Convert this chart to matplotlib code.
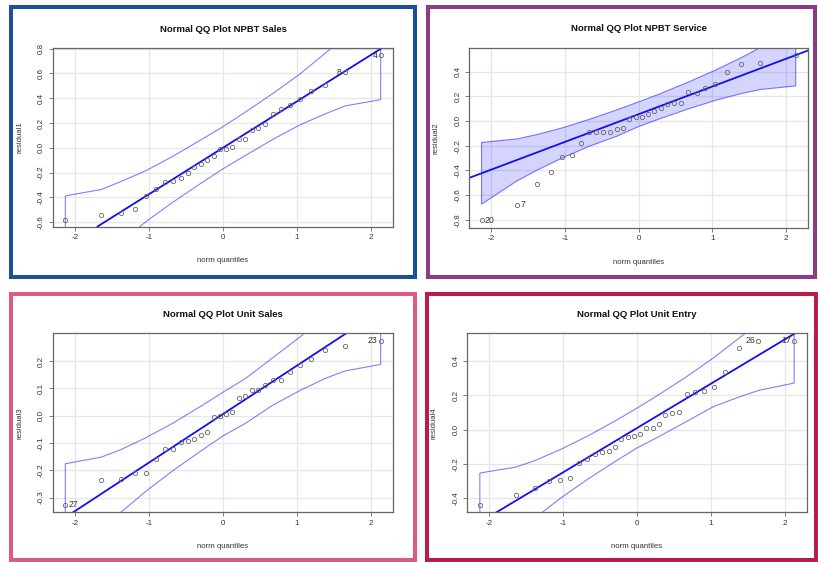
import matplotlib
matplotlib.use('Agg')
import matplotlib.pyplot as plt
from matplotlib.patches import Rectangle, Polygon

plt.rcParams['font.family'] = ['Liberation Sans', 'DejaVu Sans']
plt.rcParams['axes.unicode_minus'] = False

# normal quantiles (n = 30)
quantiles = [-2.128, -1.645, -1.383, -1.192, -1.036, -0.903, -0.784, -0.674, -0.573, -0.477,
             -0.385, -0.297, -0.210, -0.126, -0.042, 0.042, 0.126, 0.210, 0.297, 0.385,
             0.477, 0.573, 0.674, 0.784, 0.903, 1.036, 1.192, 1.383, 1.645, 2.128]

# sorted residuals
resid1 = [-0.581, -0.546, -0.528, -0.493, -0.388, -0.334, -0.275, -0.267, -0.243, -0.206,
          -0.157, -0.128, -0.098, -0.064, -0.010, -0.007, 0.009, 0.073, 0.073, 0.146,
          0.159, 0.191, 0.272, 0.309, 0.347, 0.390, 0.459, 0.508, 0.610, 0.746]
resid2 = [-0.803, -0.681, -0.511, -0.416, -0.289, -0.276, -0.176, -0.092, -0.092, -0.089,
          -0.089, -0.068, -0.054, 0.016, 0.030, 0.035, 0.059, 0.084, 0.103, 0.141,
          0.146, 0.149, 0.232, 0.230, 0.265, 0.297, 0.400, 0.460, 0.473, 0.535]
resid3 = [-0.327, -0.234, -0.233, -0.211, -0.209, -0.157, -0.121, -0.122, -0.095, -0.094,
          -0.084, -0.071, -0.061, -0.005, -0.002, 0.006, 0.015, 0.066, 0.074, 0.093,
          0.093, 0.112, 0.130, 0.132, 0.162, 0.185, 0.209, 0.239, 0.256, 0.274]
resid4 = [-0.441, -0.384, -0.340, -0.297, -0.291, -0.280, -0.196, -0.169, -0.144, -0.130,
          -0.124, -0.101, -0.056, -0.045, -0.035, -0.023, 0.008, 0.008, 0.031, 0.085,
          0.099, 0.105, 0.208, 0.221, 0.227, 0.250, 0.338, 0.474, 0.518, 0.518]

# reference lines
intercepts = [0.0, 0.055, 0.006, 0.009]
slopes = [0.375, 0.225, 0.178, 0.258]

# confidence envelopes
env_x = [-2.128, -1.645, -1.383, -1.036, -0.674, -0.297, 0.0, 0.297, 0.674, 1.036, 1.383, 1.645, 2.128]
upper1 = [-0.388, -0.337, -0.274, -0.184, -0.068, 0.064, 0.170, 0.286, 0.438, 0.594, 0.764, 0.897, 1.208]
lower1 = [-1.208, -0.897, -0.764, -0.594, -0.438, -0.286, -0.170, -0.064, 0.068, 0.184, 0.274, 0.337, 0.388]
upper2 = [-0.174, -0.145, -0.111, -0.056, 0.012, 0.090, 0.155, 0.222, 0.316, 0.411, 0.511, 0.595, 0.784]
lower2 = [-0.674, -0.485, -0.401, -0.300, -0.206, -0.124, -0.045, 0.020, 0.098, 0.167, 0.221, 0.255, 0.284]
upper3 = [-0.176, -0.152, -0.125, -0.080, -0.027, 0.035, 0.086, 0.135, 0.213, 0.288, 0.367, 0.434, 0.582]
lower3 = [-0.570, -0.422, -0.355, -0.276, -0.201, -0.129, -0.074, -0.029, 0.039, 0.092, 0.137, 0.164, 0.188]
upper4 = [-0.253, -0.219, -0.181, -0.116, -0.039, 0.050, 0.125, 0.204, 0.309, 0.418, 0.533, 0.620, 0.845]
lower4 = [-0.827, -0.611, -0.515, -0.400, -0.291, -0.186, -0.107, -0.041, 0.048, 0.134, 0.190, 0.228, 0.271]

titles = ['Normal QQ Plot NPBT Sales', 'Normal QQ Plot NPBT Service',
          'Normal QQ Plot Unit Sales', 'Normal QQ Plot Unit Entry']
ylabels = ['residual1', 'residual2', 'residual3', 'residual4']
yticks = [[-0.6, -0.4, -0.2, 0.0, 0.2, 0.4, 0.6, 0.8],
          [-0.8, -0.6, -0.4, -0.2, 0.0, 0.2, 0.4],
          [-0.3, -0.2, -0.1, 0.0, 0.1, 0.2],
          [-0.4, -0.2, 0.0, 0.2, 0.4]]
ylims = [(-0.635, 0.802), (-0.865, 0.594), (-0.354, 0.302), (-0.482, 0.561)]
# labelled points: (index, label, side)
ids = [[(28, '8', 'left'), (29, '4', 'left')],
       [(0, '20', 'right'), (1, '7', 'right')],
       [(0, '27', 'right'), (29, '23', 'left')],
       [(28, '26', 'left'), (29, '17', 'left')]]

resids = [resid1, resid2, resid3, resid4]
uppers = [upper1, upper2, upper3, upper4]
lowers = [lower1, lower2, lower3, lower4]
filled = [False, True, False, False]

W, H = 818, 562
fig = plt.figure(figsize=(W / 100, H / 100), dpi=100)

# panel frames (left, top, right, bottom in px) and colours
frames = [(11.3, 7, 414.7, 277), (428, 7, 815, 277), (11.3, 294, 414.7, 560), (427, 294, 816, 560)]
frame_cols = ['#1c4f95', '#8c3c82', '#dd5a80', '#b81e45']
# plot areas in px
boxes = [(52.7, 48.3, 393.3, 226.5), (469, 47.7, 808.3, 227.7),
         (52.7, 333.3, 393.3, 512.3), (467.3, 333.3, 806.7, 512.3)]

for (l, t, r, b), c in zip(frames, frame_cols):
    fig.patches.append(Rectangle((l / W, 1 - b / H), (r - l) / W, (b - t) / H,
                                 transform=fig.transFigure, fill=False,
                                 edgecolor=c, linewidth=2.9))

for i in range(4):
    l, t, r, b = boxes[i]
    ax = fig.add_axes([l / W, 1 - b / H, (r - l) / W, (b - t) / H])
    ax.set_xlim(-2.298, 2.298)
    ax.set_ylim(*ylims[i])
    ax.set_xticks([-2, -1, 0, 1, 2])
    ax.set_xticklabels(['-2', '-1', '0', '1', '2'])
    ax.set_yticks(yticks[i])
    ax.set_yticklabels(['%.1f' % v for v in yticks[i]], rotation=90, va='center')
    ax.grid(True, color='#e6e6e6', linewidth=0.9)
    ax.set_axisbelow(True)
    for s in ax.spines.values():
        s.set_color('#666666')
        s.set_linewidth(0.9)
    ax.tick_params(length=3, width=0.6, color='#666666', labelsize=5.8,
                   labelcolor='#333333', pad=2.5)

    xs = env_x + env_x[::-1]
    ys = uppers[i] + lowers[i][::-1]
    poly = Polygon(list(zip(xs, ys)), closed=True,
                   facecolor=(0, 0, 1, 0.17) if filled[i] else 'none',
                   edgecolor=(0, 0, 1, 0.5), linewidth=0.8)
    ax.add_patch(poly)

    ax.axline((0, intercepts[i]), slope=slopes[i], color='#1010ee', linewidth=1.3)
    ax.plot(quantiles, resids[i], 'o', markersize=3.1, markerfacecolor='none',
            markeredgecolor='#666666', markeredgewidth=0.6)

    for k, lab, side in ids[i]:
        dx = -0.04 if side == 'left' else 0.04
        ax.text(quantiles[k] + dx, resids[i][k], lab, fontsize=6.3, color='#333333',
                ha='right' if side == 'left' else 'left', va='center')

    cx = (l + r) / 2
    fig.text(cx / W, 1 - (t - 19) / H, titles[i], ha='center', va='center',
             fontsize=6.8, fontweight='bold', color='#111111')
    fig.text(cx / W, 1 - (b + 34.5) / H, 'norm quantiles', ha='center', va='center',
             fontsize=5.6, color='#333333')
    fig.text((l - 33) / W, 1 - ((t + b) / 2) / H, ylabels[i], ha='center', va='center',
             rotation=90, fontsize=5.6, color='#333333')

fig.savefig('out.png', dpi=100)
